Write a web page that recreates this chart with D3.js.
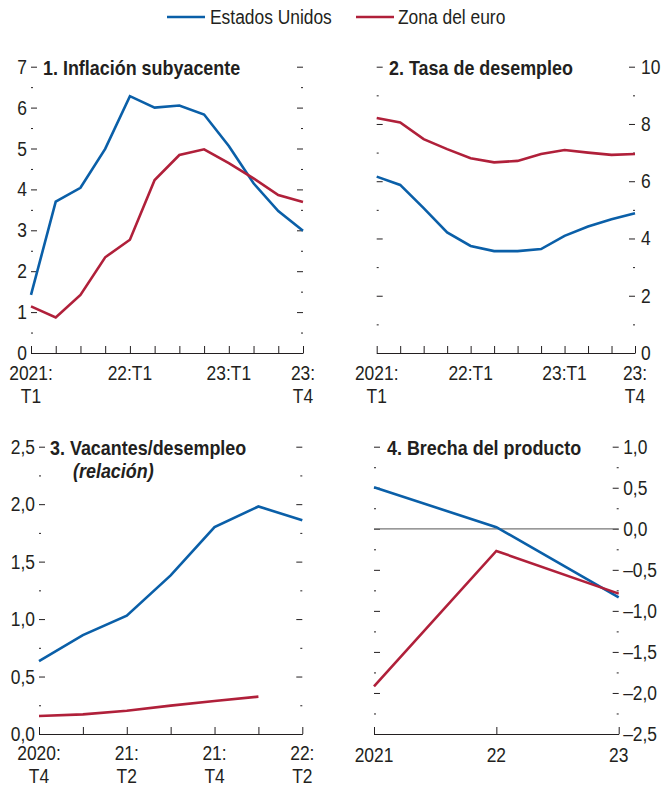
<!DOCTYPE html>
<html><head><meta charset="utf-8">
<script src="https://cdn.jsdelivr.net/npm/d3@7"></script>
<style>
body{margin:0;background:#fff}
text{font-family:"Liberation Sans","Arial",sans-serif;fill:#231f20}
</style>
</head><body>
<svg id="c" width="662" height="789"></svg>
<script>
// ---- data ----
const seriesNames = ["Estados Unidos", "Zona del euro"];
const seriesColors = ["#0a5fa8", "#b0203a"];

const quarters1 = ["2021:T1","2021:T2","2021:T3","2021:T4","2022:T1","2022:T2","2022:T3","2022:T4","2023:T1","2023:T2","2023:T3","2023:T4"];
const inflUS = [1.42, 3.70, 4.04, 4.99, 6.28, 6.00, 6.05, 5.83, 5.06, 4.15, 3.47, 2.99];
const inflEA = [1.14, 0.87, 1.42, 2.34, 2.77, 4.23, 4.84, 4.98, 4.64, 4.27, 3.86, 3.69];
const unempUS = [6.16, 5.87, 5.06, 4.21, 3.74, 3.56, 3.56, 3.63, 4.09, 4.42, 4.67, 4.88];
const unempEA = [8.21, 8.05, 7.47, 7.12, 6.80, 6.66, 6.71, 6.95, 7.09, 7.00, 6.92, 6.95];

const quarters3 = ["2020:T4","2021:T1","2021:T2","2021:T3","2021:T4","2022:T1","2022:T2"];
const vuUS = [0.635, 0.86, 1.03, 1.38, 1.80, 1.98, 1.86];
const vuEA = [0.157, 0.171, 0.203, 0.247, 0.287, 0.325, null];

const years4 = ["2021", "2022", "2023"];
const gapUS = [0.505, 0.02, -0.835];
const gapEA = [-1.92, -0.27, -0.79];

const xLabels1 = {"2021:T1": ["2021:", "T1"], "2022:T1": ["22:T1"], "2023:T1": ["23:T1"], "2023:T4": ["23:", "T4"]};
const xLabels3 = {"2020:T4": ["2020:", "T4"], "2021:T2": ["21:", "T2"], "2021:T4": ["21:", "T4"], "2022:T2": ["22:", "T2"]};
const xLabels4 = {"2021": ["2021"], "2022": ["22"], "2023": ["23"]};

const yMajor1 = [0,1,2,3,4,5,6,7], yMinor1 = [0.5,1.5,2.5,3.5,4.5,5.5,6.5];
const yMajor2 = [0,2,4,6,8,10], yMinor2 = [1,3,5,7,9];
const yMajor3 = [0,0.5,1,1.5,2,2.5], yMinor3 = [0.25,0.75,1.25,1.75,2.25];
const yMajor4 = [1,0.5,0,-0.5,-1,-1.5,-2,-2.5], yMinor4 = [0.75,0.25,-0.25,-0.75,-1.25,-1.75,-2.25];

const titles = [["1. Inflación subyacente"], ["2. Tasa de desempleo"], ["3. Vacantes/desempleo", "(relación)"], ["4. Brecha del producto"]];

// ---- drawing ----
const SX = 0.87;   // horizontal condensation for regular text
const SXB = 0.92;  // for bold titles
const svg = d3.select("#c");
const fmtInt = d => String(d);
const fmtDec = d => d.toFixed(1).replace(".", ",").replace("-", "\u2013");

function txt(g, x, y, s, o = {}) {
  return g.append("text")
    .attr("transform", `translate(${x},${y}) scale(${o.sx || SX},1)`)
    .attr("text-anchor", o.anchor || "start")
    .attr("font-size", o.size || 20)
    .attr("font-weight", o.weight || "normal")
    .attr("font-style", o.style || "normal")
    .text(s);
}

function panel(cfg) {
  const g = svg.append("g");
  const x = d3.scalePoint().domain(cfg.cats).range([cfg.x0, cfg.x1]);
  const y = d3.scaleLinear().domain(cfg.yDom).range([cfg.yB, cfg.yT]);

  // tick marks (inside)
  [[cfg.x0, d3.axisLeft], [cfg.x1, d3.axisRight]].forEach(([px, ax]) => {
    g.append("g").attr("transform", `translate(${px},0)`)
      .call(ax(y).tickValues(cfg.major).tickSizeInner(-6).tickSizeOuter(0).tickFormat(() => ""));
    g.append("g").attr("transform", `translate(${px},0)`)
      .call(ax(y).tickValues(cfg.minor).tickSizeInner(-2).tickSizeOuter(0).tickFormat(() => ""));
  });
  g.selectAll(".domain").remove();
  g.selectAll(".tick line").attr("stroke", "#231f20").attr("stroke-width", 1);
  g.selectAll(".tick text").remove();

  // y labels
  cfg.major.forEach(v => {
    if (cfg.labelSide === "left") txt(g, cfg.x0 - cfg.pad, y(v) + 7, cfg.fmt(v), {anchor: "end"});
    else txt(g, cfg.x1 + cfg.pad, y(v) + 7, cfg.fmt(v));
  });

  // zero line
  if (cfg.zero) {
    g.append("line").attr("x1", cfg.x0).attr("x2", cfg.x1).attr("y1", y(0)).attr("y2", y(0))
      .attr("stroke", "#777", "").attr("stroke-width", 1.2);
  }

  // bottom axis
  const B = g.append("g").attr("transform", `translate(0,${cfg.yB})`)
    .call(d3.axisBottom(x).tickSizeInner(-7).tickSizeOuter(0).tickFormat(() => ""));
  B.select(".domain").attr("stroke", "#231f20").attr("stroke-width", 1);
  B.selectAll(".tick line").attr("stroke", "#231f20");
  B.selectAll(".tick text").remove();
  Object.entries(cfg.xLab).forEach(([k, lines]) => {
    lines.forEach((s, i) => txt(g, x(k), cfg.yB + cfg.labOff + i * 23, s, {anchor: "middle"}));
  });

  // series
  const line = d3.line().defined(d => d.v != null).x(d => x(d.c)).y(d => y(d.v));
  cfg.series.forEach((vals, i) => {
    g.append("path").datum(vals.map((v, j) => ({c: cfg.cats[j], v})))
      .attr("fill", "none").attr("stroke", seriesColors[i]).attr("stroke-width", 2.6)
      .attr("stroke-linejoin", "miter").attr("d", line);
  });

  // title
  cfg.title.forEach((s, i) => {
    txt(g, cfg.tx + (i ? cfg.tx2 : 0), cfg.ty + i * 23, s,
      {sx: SXB, size: 19.5, weight: "bold", style: i ? "italic" : "normal"});
  });
}

panel({cats: quarters1, x0: 31, x1: 303, yT: 66.7, yB: 353, yDom: [0, 7], major: yMajor1, minor: yMinor1,
  labelSide: "left", pad: 4, fmt: fmtInt, xLab: xLabels1, labOff: 27, series: [inflUS, inflEA], title: titles[0], tx: 43, ty: 75});
panel({cats: quarters1, x0: 376.7, x1: 635, yT: 66.7, yB: 353, yDom: [0, 10], major: yMajor2, minor: yMinor2,
  labelSide: "right", pad: 6, fmt: fmtInt, xLab: xLabels1, labOff: 27, series: [unempUS, unempEA], title: titles[1], tx: 389, ty: 75});
panel({cats: quarters3, x0: 39, x1: 302.3, yT: 446.7, yB: 734, yDom: [0, 2.5], major: yMajor3, minor: yMinor3,
  labelSide: "left", pad: 4, fmt: fmtDec, xLab: xLabels3, labOff: 26, series: [vuUS, vuEA], title: titles[2], tx: 50, tx2: 23, ty: 455});
panel({cats: years4, x0: 374, x1: 618.7, yT: 446.7, yB: 734, yDom: [-2.5, 1], major: yMajor4, minor: yMinor4,
  labelSide: "right", pad: 4.5, fmt: fmtDec, xLab: xLabels4, labOff: 28, series: [gapUS, gapEA], title: titles[3], tx: 387, ty: 455, zero: true});

// legend
const leg = svg.append("g");
[[167, 210], [356, 398]].forEach(([lx, tx], i) => {
  leg.append("line").attr("x1", lx).attr("x2", lx + 38).attr("y1", 17).attr("y2", 17)
    .attr("stroke", seriesColors[i]).attr("stroke-width", 2.6);
  txt(leg, tx, 24, seriesNames[i]);
});
</script>
</body></html>
